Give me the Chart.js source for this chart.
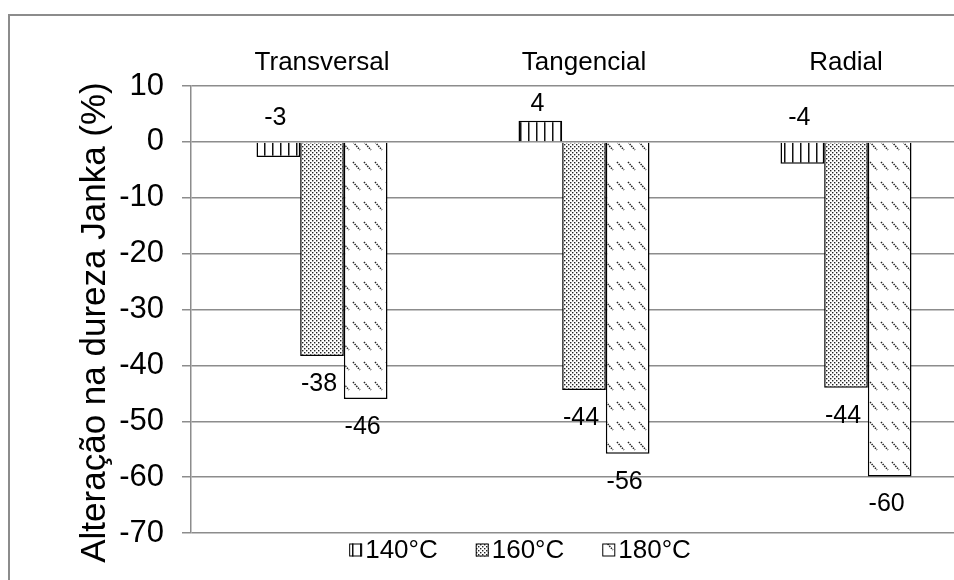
<!DOCTYPE html>
<html lang="pt">
<head>
<meta charset="UTF-8">
<title>Alteração na dureza Janka</title>
<script src="https://cdn.jsdelivr.net/npm/chart.js"></script>
<style>
  html, body { margin: 0; padding: 0; background: #fff; overflow: hidden; }
  .wrap { position: relative; width: 954px; height: 580px; overflow: hidden; }
  .frame { position: absolute; left: 8px; top: 14px; width: 2000px; height: 2000px;
           border-left: 2px solid #8c8c8c; border-top: 2px solid #8c8c8c; pointer-events: none; }
  canvas { position: absolute; left: 0; top: 0; }
</style>
</head>
<body>
<div class="wrap">
  <canvas id="chart" width="977" height="580"></canvas>
  <div class="frame"></div>
</div>
<script>
// data
const categories = ['Transversal', 'Tangencial', 'Radial'];
const seriesNames = ['140°C', '160°C', '180°C'];
const values140 = [-2.7, 3.8, -3.9];
const values160 = [-38.3, -44.4, -44.0];
const values180 = [-46.0, -55.8, -59.9];
const yTicks = [10, 0, -10, -20, -30, -40, -50, -60, -70];
const yTitle = 'Alteração na dureza Janka (%)';

const FONT = '"Liberation Sans", Arial, sans-serif';
const canvas = document.getElementById('chart');
const ctx = canvas.getContext('2d');

// small tiles used as bar fills
function makePattern(w, h, draw) {
    const c = document.createElement('canvas');
    c.width = w;
    c.height = h;
    const g = c.getContext('2d');
    g.fillStyle = '#fff';
    g.fillRect(0, 0, w, h);
    draw(g);
    return ctx.createPattern(c, 'repeat');
}

const pat140 = makePattern(8, 8, g => {
    g.fillStyle = '#111';
    g.fillRect(0, 0, 1.5, 8);
});
const pat160 = makePattern(4, 4, g => {
    g.fillStyle = '#222';
    g.fillRect(0, 0, 1.4, 1.4);
    g.fillRect(2, 2, 1.4, 1.4);
});
const pat180 = makePattern(11, 20, g => {
    g.strokeStyle = '#222';
    g.lineWidth = 1.5;
    g.setLineDash([1.5, 1]);
    g.beginPath();
    g.moveTo(1, 2);
    g.lineTo(8, 10);
    g.stroke();
});

// value labels: below the end of long bars, above zero for short ones
const valueLabels = {
    id: 'valueLabels',
    afterDatasetsDraw(chart) {
        const c = chart.ctx;
        const zero = chart.scales.y.getPixelForValue(0);
        c.save();
        c.font = '25px ' + FONT;
        c.fillStyle = '#000';
        c.textAlign = 'center';
        c.textBaseline = 'middle';
        chart.data.datasets.forEach((ds, i) => {
            chart.getDatasetMeta(i).data.forEach((bar, j) => {
                const v = ds.data[j];
                let y;
                if (v >= 0) y = bar.y - 17;
                else if (v > -10) y = zero - 24;
                else y = bar.y + 28;
                c.fillText(String(Math.round(v)), bar.x - 3, y);
            });
        });
        c.restore();
    }
};

// rotated axis title, sitting a bit lower than the scale's own centre
const axisTitle = {
    id: 'axisTitle',
    afterDraw(chart) {
        const c = chart.ctx;
        c.save();
        c.translate(95, (chart.chartArea.top + chart.chartArea.bottom) / 2 + 13);
        c.rotate(-Math.PI / 2);
        c.font = '35px ' + FONT;
        c.fillStyle = '#000';
        c.textAlign = 'center';
        c.textBaseline = 'middle';
        c.fillText(yTitle, 0, 0);
        c.restore();
    }
};

// legend row under the plot, swatch close to its text
const bottomLegend = {
    id: 'bottomLegend',
    afterDraw(chart) {
        const c = chart.ctx;
        const box = 13, gapText = 3, gapItem = 38;
        c.save();
        c.font = '26px ' + FONT;
        c.textBaseline = 'middle';
        const items = chart.data.datasets.map(ds => ({
            ds: ds,
            w: box + gapText + c.measureText(ds.label).width
        }));
        const total = items.reduce((s, it) => s + it.w, 0) + gapItem * (items.length - 1);
        let x = 520 - total / 2;
        const y = chart.chartArea.bottom + 17;
        items.forEach(it => {
            c.fillStyle = it.ds.backgroundColor;
            c.fillRect(x, y - box / 2, box, box);
            c.strokeStyle = '#000';
            c.lineWidth = 1;
            c.strokeRect(x + 0.5, y - box / 2 + 0.5, box - 1, box - 1);
            c.fillStyle = '#000';
            c.fillText(it.ds.label, x + box + gapText, y + 1);
            x += it.w + gapItem;
        });
        c.restore();
    }
};

new Chart(ctx, {
    type: 'bar',
    data: {
        labels: categories,
        datasets: [
            { label: seriesNames[0], data: values140, backgroundColor: pat140, borderColor: '#000', borderWidth: 1.5 },
            { label: seriesNames[1], data: values160, backgroundColor: pat160, borderColor: '#000', borderWidth: 1.5 },
            { label: seriesNames[2], data: values180, backgroundColor: pat180, borderColor: '#000', borderWidth: 1.5 }
        ]
    },
    options: {
        responsive: false,
        animation: false,
        layout: { padding: { left: 59, right: 0, top: 30, bottom: 47 } },
        datasets: { bar: { categoryPercentage: 0.5, barPercentage: 1 } },
        scales: {
            x: {
                position: 'top',
                grid: { display: false, drawTicks: false },
                border: { display: false },
                ticks: { color: '#000', font: { family: FONT, size: 26 }, padding: 8 },
                afterFit(s) { s.height = 56; }
            },
            y: {
                min: -70,
                max: 10,
                afterBuildTicks(s) { s.ticks = yTicks.map(v => ({ value: v })); },
                ticks: { color: '#000', font: { family: FONT, size: 31 }, padding: 18 },
                grid: { color: '#8c8c8c', lineWidth: 1.5, tickLength: 9 },
                border: { color: '#8c8c8c', width: 1.5 },
                afterFit(s) { s.width = 132; }
            }
        },
        plugins: {
            legend: { display: false },
            tooltip: { enabled: false }
        }
    },
    plugins: [valueLabels, axisTitle, bottomLegend]
});
</script>
</body>
</html>
